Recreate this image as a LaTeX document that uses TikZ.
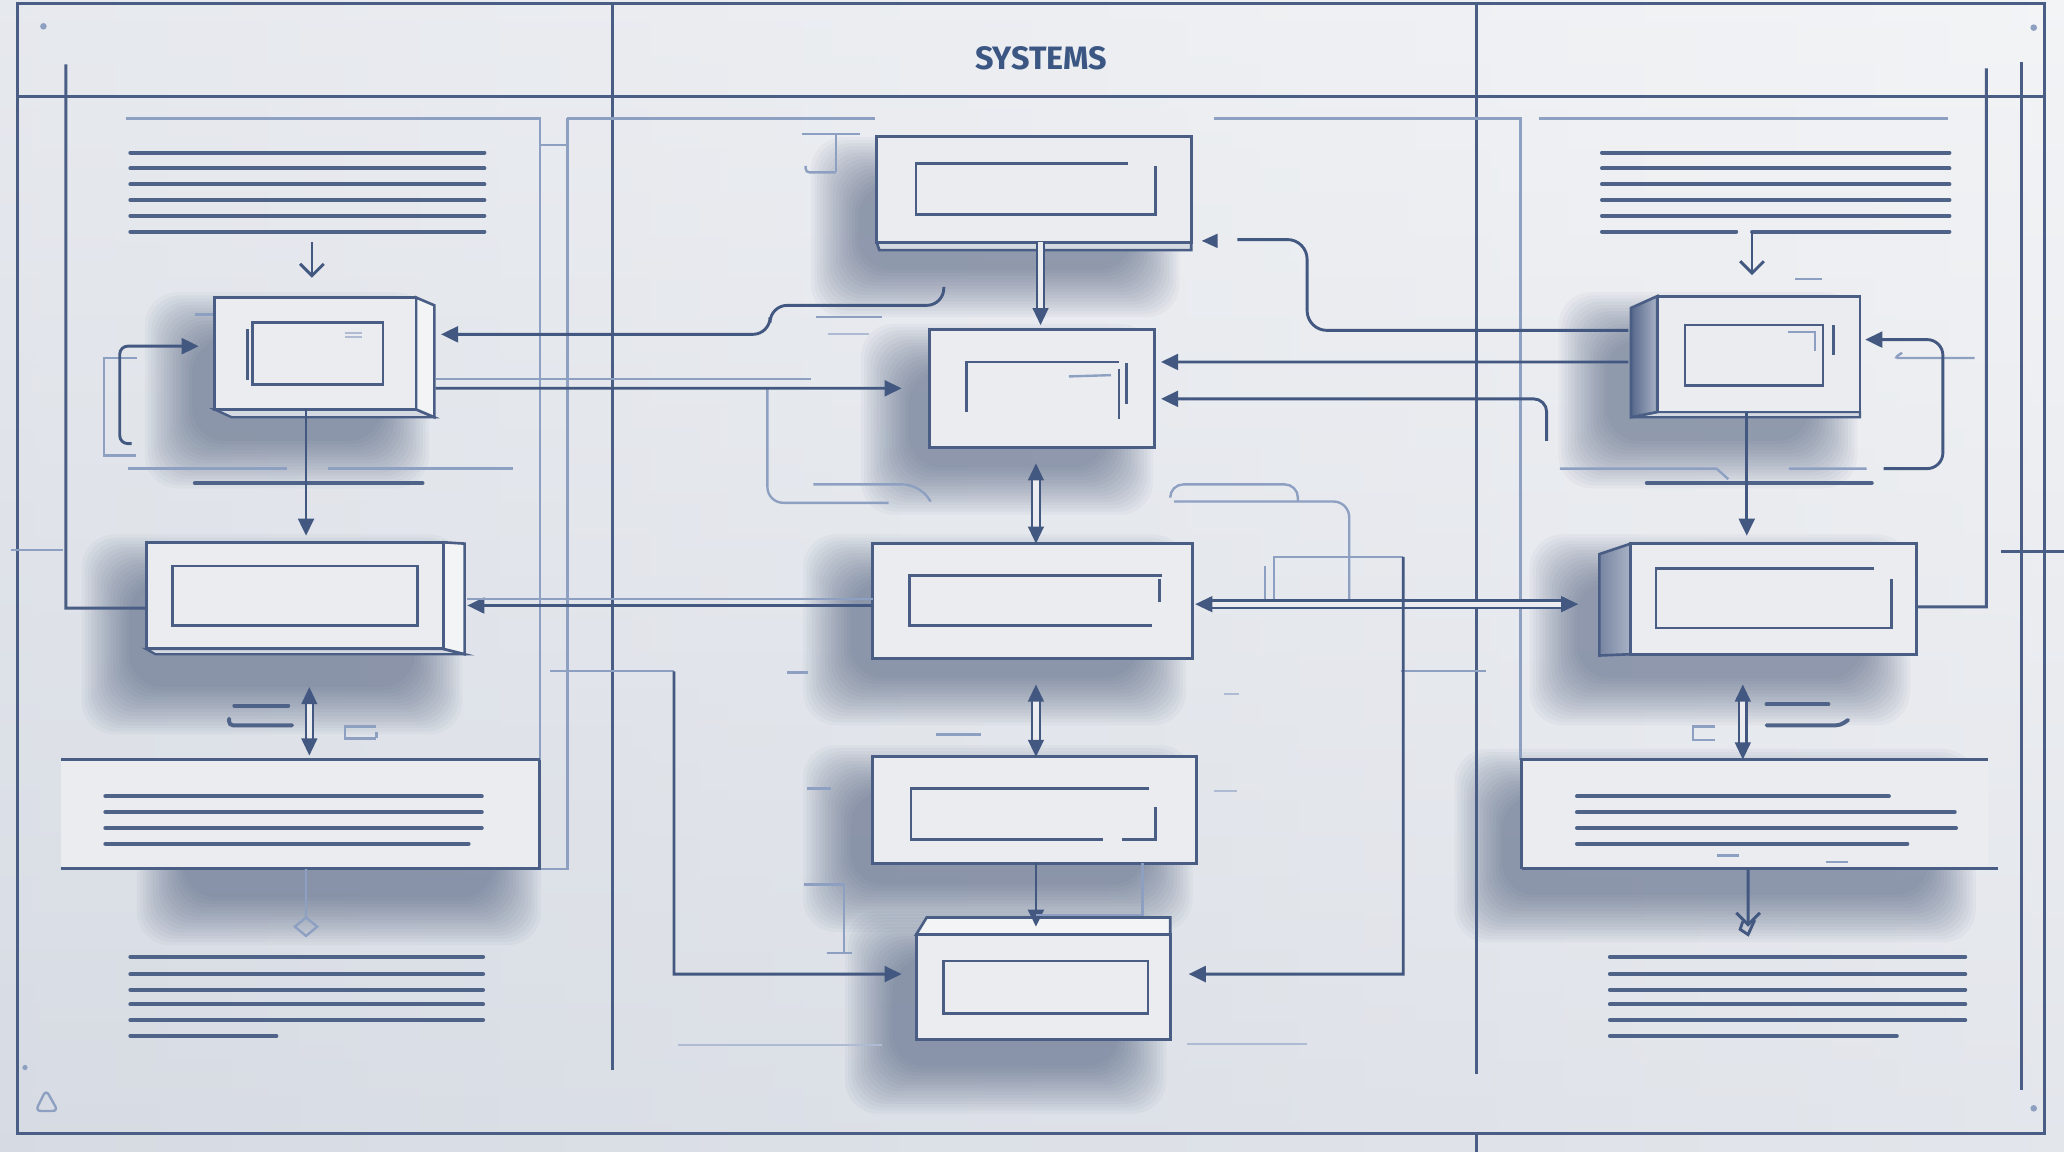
\documentclass[tikz,border=0pt]{standalone}
\usepackage{fontspec}
\newfontfamily\titlefont{Fira Sans}
\usetikzlibrary{arrows.meta,fit,calc}
\definecolor{inkc}{HTML}{4A5E85}
\definecolor{txtc}{HTML}{4F6389}
\definecolor{connc}{HTML}{435880}
\definecolor{litec}{HTML}{8EA0C2}
\definecolor{faintc}{HTML}{AEBBD3}
\definecolor{facec}{HTML}{EAECF0}
\definecolor{sidelt}{HTML}{F3F4F6}
\definecolor{botc}{HTML}{D5DAE2}
\definecolor{sidedkA}{HTML}{56678A}
\definecolor{sidedkB}{HTML}{A9B3C6}
\definecolor{shadc}{HTML}{2A3D63}
\definecolor{titlec}{HTML}{3B5683}
\definecolor{bgA}{HTML}{F3F4F6}
\definecolor{bgB}{HTML}{D4D9E2}
\newcommand\softshadow[4]{%
  \foreach \k in {0,...,15}{%
    \fill[shadc,opacity=0.036,rounded corners=2.5mm] ({#1-\k*2.4},{#2-\k*2.4}) rectangle ({#3+\k*2.4},{#4+\k*2.4});}}
\tikzset{
  frameln/.style={draw=inkc,line width=0.22mm},
  txt/.style={draw=txtc,line width=0.3mm,line cap=round},
  lite/.style={draw=litec,line width=0.18mm},
  faint/.style={draw=faintc,line width=0.16mm},
  conn/.style={draw=connc,line width=0.22mm},
  boxface/.style={draw=inkc,line width=0.22mm,fill=facec,inner sep=0pt,outer sep=0pt},
  panelface/.style={fill=facec,inner sep=0pt,outer sep=0pt},
  inner/.style={draw=inkc,line width=0.2mm},
  tri/.style={-{Triangle[length=1.3mm,width=1.2mm]}},
  tritri/.style={{Triangle[length=1.3mm,width=1.2mm]}-{Triangle[length=1.3mm,width=1.2mm]}},
  barb/.style={-{Straight Barb[length=0.9mm,width=1.8mm]}},
  dbl/.style={draw=connc,line width=0.16mm,double=facec,double distance=0.4mm},
}
\begin{document}
\begin{tikzpicture}[x=0.1mm,y=-0.1mm]
\useasboundingbox (0,0) rectangle (1568,875);
% ---------- background
\fill[bgA] (0,0) rectangle (1568,875);
\shade[left color=bgB, right color=bgA, opacity=0.8] (0,0) rectangle (1568,875);
\shade[top color=bgA, bottom color=bgB, opacity=0.5] (0,0) rectangle (1568,875);
% ---------- shadows
\softshadow{652}{140}{860}{205}
\softshadow{146}{258}{290}{335}
\softshadow{98}{442}{315}{522}
\softshadow{690}{282}{840}{355}
\softshadow{646}{442}{865}{515}
\softshadow{646}{602}{870}{672}
\softshadow{678}{728}{850}{810}
\softshadow{1220}{258}{1375}{335}
\softshadow{1198}{442}{1415}{515}
\softshadow{140}{615}{375}{682}
\softshadow{1141}{605}{1465}{680}
% ---------- panels
\node[panelface, fit={(46,577) (410,660)}] (PL) {};
\node[panelface, fit={(1156,577) (1510,660)}] (PR) {};
% ---------- boxes
% L1
\fill[botc,draw=inkc,line width=0.18mm] (163,311) -- (316,311) -- (330,317) -- (176,317) -- cycle;
\fill[sidelt,draw=inkc,line width=0.2mm] (316,226) -- (330,232) -- (330,317) -- (316,311) -- cycle;
\node[boxface, fit={(163,226) (316,311)}] (L1) {};
% L2
\fill[botc,draw=inkc,line width=0.18mm] (111,493) -- (337,493) -- (353,497) -- (118,497) -- cycle;
\fill[sidelt,draw=inkc,line width=0.2mm] (337,412) -- (353,413) -- (353,497) -- (337,493) -- cycle;
\node[boxface, fit={(111,412) (337,493)}] (L2) {};
% C1
\fill[botc,draw=inkc,line width=0.2mm] (666,184) -- (905,184) -- (905,190) -- (668,190) -- cycle;
\node[boxface, fit={(666,104) (905,184)}] (C1) {};
% C2..C4
\node[boxface, fit={(706,250) (877,340)}] (C2) {};
\node[boxface, fit={(663,413) (906,500)}] (C3) {};
\node[boxface, fit={(663,575) (909,656)}] (C4) {};
% C5
\fill[sidelt,draw=inkc,line width=0.2mm] (696,710) -- (704,697) -- (889,697) -- (889,710) -- cycle;
\node[boxface, fit={(696,710) (889,790)}] (C5) {};
% R1
\fill[botc,draw=inkc,line width=0.18mm] (1239,317) -- (1259,313) -- (1413,313) -- (1413,317) -- cycle;
\shadedraw[left color=sidedkA,right color=sidedkB,draw=inkc,line width=0.2mm] (1239,234) -- (1259,225) -- (1259,313) -- (1239,317) -- cycle;
\node[boxface, fit={(1259,225) (1413,313)}] (R1) {};
% R2
\shadedraw[left color=sidedkA!80!white,right color=sidedkB,draw=inkc,line width=0.2mm] (1215,421) -- (1239,413) -- (1239,497) -- (1215,498) -- cycle;
\node[boxface, fit={(1239,413) (1456,497)}] (R2) {};
% ---------- inner frames of boxes
\draw[inner] (192,245) rectangle (291,292);
\draw[inner] (188,250) -- (188,289);
\draw[faint] (262,253) -- (275,253) (262,256) -- (275,256);
\draw[inner] (131,430) rectangle (317,475);
\draw[inner] (857,124) -- (696,124) -- (696,163) -- (878,163) -- (878,126);
\draw[inner] (734,313) -- (734,275) -- (850,275);
\draw[inner] (856,276) -- (856,307) (850,280) -- (850,318);
\draw[lite] (812,286) -- (844,285);
\draw[inner] (883,437) -- (691,437) -- (691,475) -- (875,475) (881,440) -- (881,457);
\draw[inner] (873,599) -- (692,599) -- (692,638) -- (838,638) (852,638) -- (878,638) -- (878,613);
\draw[inner] (717,730) rectangle (872,770);
\draw[inner] (1280,247) rectangle (1385,293);
\draw[inner] (1393,247) -- (1393,270);
\draw[lite] (1358,252) -- (1379,252) -- (1379,267);
\draw[inner] (1437,440) -- (1437,477) -- (1258,477) -- (1258,432) -- (1424,432);
% ---------- frame and grid
\draw[frameln] (13,3) rectangle (1553,861);
\draw[frameln] (13,73) -- (1553,73);
\draw[frameln] (465,3) -- (465,813);
\draw[frameln] (1122,3) -- (1122,816);
\draw[frameln] (1122,861) -- (1122,875);
\draw[frameln] (50,49) -- (50,462) -- ([yshift=-0.95mm]L2.west);
\draw[frameln] (1509,52) -- (1509,461) -- ([yshift=-0.6mm]R2.east);
\draw[frameln] (1536,47) -- (1536,828);
\draw[lite] (8,418) -- (48,418);
\draw[frameln] (1520,419) -- (1568,419);
\fill[litec] (33,20) circle (0.25mm) (1545,21) circle (0.25mm) (19,811) circle (0.2mm) (1545,842) circle (0.25mm);
\draw[lite, rounded corners=0.4mm] (35,828) -- (44,844) -- (27,844) -- cycle;
% left column guide lines
\draw[lite] (96,90) -- (410,90) -- (410,660);
\draw[lite] (431,90) -- (431,660) -- (410,660);
\draw[lite] (410,110) -- (431,110);
\draw[lite] (431,90) -- (665,90);
\draw[frameln] (46,577) -- (410,577);
\draw[frameln] (46,660) -- (410,660) -- (410,577);
% right column guide lines
\draw[lite] (922,90) -- (1155,90) -- (1155,577);
\draw[lite] (1169,90) -- (1480,90);
\draw[frameln] (1155,577) -- (1510,577);
\draw[frameln] (1156,577) -- (1156,660);
\draw[frameln] (1156,660) -- (1518,660);
% ---------- text lines
\foreach \yy in {116,128,140,152,164,176} \draw[txt] (99,\yy) -- (368,\yy);
\foreach \yy in {605,617,629} \draw[txt] (80,\yy) -- (366,\yy);
\draw[txt] (80,641) -- (356,641);
\foreach \yy in {727,740,752,763,775} \draw[txt] (99,\yy) -- (367,\yy);
\draw[txt] (99,787) -- (210,787);
\foreach \yy in {116,128,140,152,164} \draw[txt] (1217,\yy) -- (1481,\yy);
\draw[txt] (1217,176) -- (1319,176);
\draw[txt] (1331,176) -- (1481,176);
\draw[txt] (1198,605) -- (1435,605);
\draw[txt] (1198,617) -- (1485,617);
\draw[txt] (1198,629) -- (1486,629);
\draw[txt] (1198,641) -- (1449,641);
\draw[lite] (1304,650) -- (1321,650) (1387,655) -- (1404,655);
\foreach \yy in {727,740,752,763,775} \draw[txt] (1223,\yy) -- (1493,\yy);
\draw[txt] (1223,787) -- (1441,787);
% ---------- title
\node[font=\titlefont\bfseries\fontsize{7}{8}\selectfont, text=titlec] (title) at (791,44) {SYSTEMS};
% ---------- small marks
\draw[lite] (148,239) -- (162,239);
\draw[lite] (104,272) -- (79,272) -- (79,346) -- (103,346);
\draw[lite] (97,356) -- (218,356) (249,356) -- (390,356);
\draw[txt] (148,367) -- (321,367);
\draw[txt] (178,536) -- (219,536);
\draw[txt,rounded corners=0.3mm] (174,546) -- (174,551) -- (222,551);
\draw[lite] (286,552) -- (262,552) -- (262,561) -- (286,561) (286,556) -- (286,561);
\draw[lite] (609,102) -- (653,102) (635,102) -- (635,131);
\draw[lite,rounded corners=0.3mm] (612,126) -- (612,131) -- (635,131);
\draw[lite] (620,241) -- (670,241);
\draw[faint] (629,254) -- (660,254);
\draw[lite] (598,511) -- (614,511);
\draw[lite] (613,599) -- (631,599);
\draw[lite] (711,558) -- (745,558);
\draw[lite] (611,672) -- (641,672) -- (641,724) (628,724) -- (647,724);
\draw[faint] (515,794) -- (670,794) (902,793) -- (993,793);
\draw[faint] (930,527) -- (941,527) (922,601) -- (940,601);
\draw[lite] (961,430) -- (961,455);
\draw[lite] (968,455) -- (968,423) -- (1066,423);
\draw[lite,rounded corners=1mm] (889,378) -- (889,368) -- (986,368) -- (986,381);
\draw[lite,rounded corners=1.2mm] (892,381) -- (1025,381) -- (1025,455);
\draw[lite] (1064,510) -- (1129,510);
\draw[lite] (1364,212) -- (1384,212);
\draw[lite,rounded corners=0.3mm] (1445,268) -- (1439,272) -- (1500,272);
\draw[lite] (1185,356) -- (1304,356) -- (1313,364) (1359,356) -- (1418,356);
\draw[txt] (1251,367) -- (1422,367);
\draw[txt] (1342,535) -- (1389,535);
\draw[txt,rounded corners=0.3mm] (1342,551) -- (1398,551) -- (1404,547);
\draw[lite] (1303,552) -- (1286,552) -- (1286,562) -- (1303,562);
\draw[lite] (331,288) -- (616,288);
\draw[lite,rounded corners=1.2mm] (583,295) -- (583,382) -- (675,382);
\draw[lite,rounded corners=1.2mm] (618,368) -- (698,368) -- (707,381);
% ---------- connectors
\coordinate (t1) at (237,184);
\draw[conn,barb,shorten >=1.5mm] (t1) -- (t1 |- L1.north);
\coordinate (l1b) at ([xshift=-0.7mm]L1.south);
\draw[conn,tri,shorten >=0.5mm] (l1b) -- (l1b |- L2.north);
\coordinate (lp) at (100,337);
\draw[conn,tri,rounded corners=0.6mm,shorten >=1.2mm] (lp) -- (91,337) -- (91,263) -- ([yshift=0.55mm]L1.west);
\coordinate (cw) at (717,218);
\draw[conn,tri,rounded corners=1.3mm,shorten >=1.9mm] (cw) -- (717,232) -- (585,232) -- (585,254) -- ([yshift=1.45mm]L1.east);
\draw[conn,tri,shorten <=1.5mm,shorten >=2.1mm] ([yshift=-2.65mm]L1.east) -- (C2.west);
\draw[conn,rounded corners=1.5mm,shorten <=2.2mm] ([yshift=1.8mm]R1.west) -- (993,251) -- (993,182) -- (940,182);
\fill[connc] (913,183) -- (925,177.5) -- (925,188.5) -- cycle;
\draw[conn,tri,shorten <=2.2mm,shorten >=0.5mm] ([yshift=-0.6mm]R1.west) -- ([yshift=2mm]C2.east);
\coordinate (r3) at (1175,335);
\draw[conn,tri,rounded corners=1mm,shorten >=0.5mm] (r3) -- (1175,303) -- ([yshift=-0.8mm]C2.east);
\coordinate (c1s) at ([xshift=0.5mm]C1.south);
\draw[dbl,tri,shorten >=0.3mm] (c1s) -- (c1s |- C2.north);
\coordinate (c2s) at ([xshift=-0.45mm]C2.south);
\draw[dbl,tritri,shorten <=1.2mm] (c2s) -- (c2s |- C3.north);
\coordinate (c3s) at ([xshift=0.25mm]C3.south);
\draw[dbl,tritri,shorten <=2mm] (c3s) -- (c3s |- C4.north);
\coordinate (c4s) at ([xshift=0.1mm]C4.south);
\draw[conn,tri,shorten >=0.6mm] (c4s) -- (c4s |- C5.north);
\draw[lite] (787,695) -- (868,695) -- (868,656);
\coordinate (c3e) at ([yshift=-0.25mm]C3.east);
\draw[dbl,tritri,shorten <=0.2mm,shorten >=4mm] (c3e) -- (c3e -| R2.west);
\coordinate (c3w) at ([yshift=-0.35mm]C3.west);
\draw[conn,tri,shorten >=1.8mm] (c3w) -- (L2.east |- c3w);
\coordinate (c3w2) at ([yshift=0.15mm]C3.west);
\draw[lite,shorten >=1.8mm] (c3w2) -- (L2.east |- c3w2);
\coordinate (r1s) at ([xshift=-0.9mm]R1.south);
\draw[conn,tri,shorten >=0.6mm] (r1s) -- (r1s |- R2.north);
\coordinate (r2s) at ([xshift=-2.35mm]R2.south);
\draw[dbl,tritri,shorten <=2.3mm] (r2s) -- (r2s |- PR.north);
\coordinate (l2s) at ([xshift=1.1mm]L2.south);
\draw[dbl,tritri,shorten <=2.9mm,shorten >=0.3mm] (l2s) -- (l2s |- PL.north);
\coordinate (r1l) at (1431,356);
\draw[conn,tri,rounded corners=1.2mm,shorten >=0.4mm] (r1l) -- (1476,356) -- (1476,258) -- ([yshift=1.1mm]R1.east);
\coordinate (t2) at (1331,176);
\draw[conn,barb,shorten >=1.6mm] (t2) -- (t2 |- R1.north);
\coordinate (prs) at ([xshift=-0.5mm]PR.south);
\coordinate (pre) at (1328,704);
\draw[conn,barb] (prs) -- (pre);
\draw[conn] (1324,700) -- (1322,706) -- (1328,710) -- (1333,699);
\coordinate (pls) at ([xshift=0.45mm]PL.south);
\coordinate (dm) at (232.5,697);
\draw[lite] (pls) -- (dm);
\draw[lite] (dm) -- (241,704) -- (232.5,711) -- (224,704) -- cycle;
\draw[lite] (418,510) -- (512,510);
\draw[conn,tri,shorten >=1.1mm] (512,510) -- (512,740) -- ([yshift=1mm]C5.west);
\draw[conn,tri,shorten >=1.4mm] (1066,423) -- (1066,740) -- ([yshift=1mm]C5.east);
\end{tikzpicture}
\end{document}
